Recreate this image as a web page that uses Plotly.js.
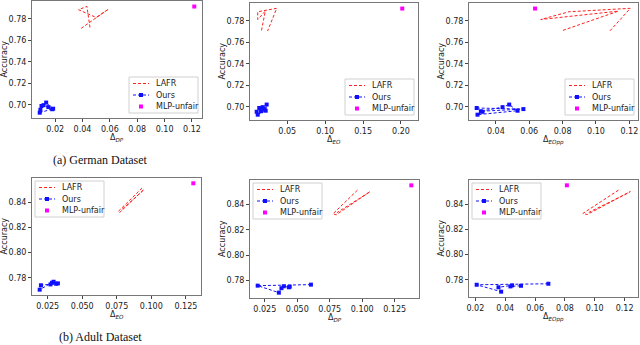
<!DOCTYPE html>
<html><head><meta charset="utf-8">
<script src="https://cdn.plot.ly/plotly-3.0.1.min.js"></script>
<style>html,body{margin:0;padding:0;background:#fff}#chart{width:640px;height:345px}</style>
</head><body><div id="chart"></div>
<script>
// ---------------- German dataset ----------------
const germanLafrAcc  = [0.7712, 0.7891, 0.7813, 0.7885, 0.7917, 0.7706];
const germanLafrDP   = [0.0390, 0.0590, 0.0500, 0.0371, 0.0432, 0.0456];
const germanLafrEO   = [0.0160, 0.0210, 0.0110, 0.0110, 0.0360, 0.0240];
const germanLafrEOpp = [0.0802, 0.1135, 0.0669, 0.0838, 0.1206, 0.1083];

const germanOursAcc  = [0.6990, 0.6980, 0.6960, 0.6998, 0.7022, 0.6965, 0.6928, 0.6955];
const germanOursDP   = [0.0100, 0.0150, 0.0178, 0.0115, 0.0134, 0.0185, 0.0087, 0.0092];
const germanOursEO   = [0.0130, 0.0195, 0.0153, 0.0175, 0.0228, 0.0215, 0.0110, 0.0096];
const germanOursEOpp = [0.0285, 0.0565, 0.0310, 0.0440, 0.0480, 0.0530, 0.0290, 0.0320];

const germanMlpAcc  = [0.7915];
const germanMlpDP   = [0.1217];
const germanMlpEO   = [0.2017];
const germanMlpEOpp = [0.0635];

// ---------------- Adult dataset ----------------
const adultLafrAcc  = [0.8512, 0.8326, 0.8318, 0.8501, 0.8490, 0.8335];
const adultLafrDP   = [0.0963, 0.0775, 0.0800, 0.1060, 0.1045, 0.0805];
const adultLafrEO   = [0.0933, 0.0760, 0.0771, 0.0946, 0.0938, 0.0780];
const adultLafrEOpp = [0.1159, 0.0920, 0.0950, 0.1238, 0.1225, 0.0960];

const adultOursAcc  = [0.7768, 0.7760, 0.7705, 0.7740, 0.7755, 0.7747, 0.7752];
const adultOursDP   = [0.0605, 0.0195, 0.0358, 0.0378, 0.0396, 0.0435, 0.0442];
const adultOursEO   = [0.0293, 0.0281, 0.0192, 0.0201, 0.0324, 0.0270, 0.0311];
const adultOursEOpp = [0.0689, 0.0209, 0.0373, 0.0355, 0.0446, 0.0435, 0.0506];

const adultMlpAcc  = [0.8550];
const adultMlpDP   = [0.1378];
const adultMlpEO   = [0.1304];
const adultMlpEOpp = [0.0813];

// ---------------- labels ----------------
const seriesNames = ['LAFR', 'Ours', 'MLP-unfair'];
const xTitles = ['Δ<sub><i>DP</i></sub>', 'Δ<sub><i>EO</i></sub>', 'Δ<sub><i>EOpp</i></sub>',
                 'Δ<sub><i>EO</i></sub>', 'Δ<sub><i>DP</i></sub>', 'Δ<sub><i>EOpp</i></sub>'];
const yTitle = 'Accuracy';
const captions = ['(a) German Dataset', '(b) Adult Dataset'];
const xTick0 = [0.02, 0.05, 0.04, 0.025, 0.025, 0.02];
const xDtick = [0.02, 0.05, 0.02, 0.025, 0.025, 0.02];
const yTick0 = [0.70, 0.70, 0.70, 0.78, 0.78, 0.78];
const yDtick = 0.02;

// ---------------- layout geometry (pixels) ----------------
const W = 640, H = 345;
const PX = v => v / W, PY = v => 1 - v / H;
const boxes = [
  [32, 202, 1, 118], [250, 418, 3, 120], [469, 638, 3, 120],
  [32, 201, 178, 295], [250, 419, 180, 298], [469, 638, 180, 297]
];
const yTitleX = [4, 222, 441, 4, 222, 441];
const xTitleY = [138, 140, 140, 315, 318, 317];

const panels = [
  {lx: germanLafrDP,   ly: germanLafrAcc, ox: germanOursDP,   oy: germanOursAcc, mx: germanMlpDP,   my: germanMlpAcc, fmt: '.2f', leg: 'br'},
  {lx: germanLafrEO,   ly: germanLafrAcc, ox: germanOursEO,   oy: germanOursAcc, mx: germanMlpEO,   my: germanMlpAcc, fmt: '.2f', leg: 'br', xr: [0.0008, 0.2225]},
  {lx: germanLafrEOpp, ly: germanLafrAcc, ox: germanOursEOpp, oy: germanOursAcc, mx: germanMlpEOpp, my: germanMlpAcc, fmt: '.2f', leg: 'br'},
  {lx: adultLafrEO,    ly: adultLafrAcc,  ox: adultOursEO,    oy: adultOursAcc,  mx: adultMlpEO,    my: adultMlpAcc,  fmt: '.3f', leg: 'tl'},
  {lx: adultLafrDP,    ly: adultLafrAcc,  ox: adultOursDP,    oy: adultOursAcc,  mx: adultMlpDP,    my: adultMlpAcc,  fmt: '.3f', leg: 'tl'},
  {lx: adultLafrEOpp,  ly: adultLafrAcc,  ox: adultOursEOpp,  oy: adultOursAcc,  mx: adultMlpEOpp,  my: adultMlpAcc,  fmt: '.2f', leg: 'tl'}
];

const RED = '#ff2020', BLUE = '#1010ff', MAG = '#ff00ff';
const FONT = 'DejaVu Sans';

function padRange(arrs) {
  const all = [].concat(...arrs);
  const mn = Math.min(...all), mx = Math.max(...all), r = mx - mn;
  return [mn - 0.05 * r, mx + 0.05 * r];
}

const data = [];
const layout = {
  width: W, height: H,
  margin: {l: 0, r: 0, t: 0, b: 0},
  showlegend: false,
  font: {family: FONT, size: 8, color: '#222'},
  shapes: [], annotations: []
};

panels.forEach((p, i) => {
  const n = i === 0 ? '' : String(i + 1);
  const xa = 'x' + n, ya = 'y' + n;
  const b = boxes[i];
  data.push({type: 'scatter', mode: 'lines', name: seriesNames[0], x: p.lx, y: p.ly, xaxis: xa, yaxis: ya,
             line: {color: RED, width: 1, dash: '3px,2px'}});
  data.push({type: 'scatter', mode: 'lines+markers', name: seriesNames[1], x: p.ox, y: p.oy, xaxis: xa, yaxis: ya,
             line: {color: BLUE, width: 1, dash: '3px,2px'}, marker: {symbol: 'square', size: 4, color: BLUE}});
  data.push({type: 'scatter', mode: 'markers', name: seriesNames[2], x: p.mx, y: p.my, xaxis: xa, yaxis: ya,
             marker: {symbol: 'square', size: 4, color: MAG}});

  layout['xaxis' + n] = {
    domain: [PX(b[0]), PX(b[1])], anchor: ya,
    range: p.xr || padRange([p.lx, p.ox, p.mx]),
    showline: true, mirror: true, linecolor: '#777', ticks: 'outside', ticklen: 3,
    showgrid: false, zeroline: false,
    tickmode: 'linear', tick0: xTick0[i], dtick: xDtick[i], tickformat: p.fmt
  };
  layout['yaxis' + n] = {
    domain: [PY(b[3]), PY(b[2])], anchor: xa,
    range: padRange([p.ly, p.oy, p.my]),
    showline: true, mirror: true, linecolor: '#777', ticks: 'outside', ticklen: 3,
    showgrid: false, zeroline: false,
    tickmode: 'linear', tick0: yTick0[i], dtick: yDtick, tickformat: '.2f'
  };

  // axis titles
  layout.annotations.push({xref: 'paper', yref: 'paper', x: PX((b[0] + b[1]) / 2), y: PY(xTitleY[i]),
    xanchor: 'center', yanchor: 'middle', showarrow: false, text: xTitles[i],
    font: {family: FONT, size: 8, color: '#222'}});
  layout.annotations.push({xref: 'paper', yref: 'paper', x: PX(yTitleX[i]), y: PY((b[2] + b[3]) / 2),
    xanchor: 'center', yanchor: 'middle', showarrow: false, textangle: -90, text: yTitle,
    font: {family: FONT, size: 8, color: '#222'}});

  // legend box (matplotlib style)
  const lw = 69, lh = 36;
  let left, top;
  if (p.leg === 'br') { left = b[1] - 4 - lw; top = b[3] - 5 - lh; }
  else { left = b[0] + 3; top = b[2] + 3; }
  layout.shapes.push({type: 'rect', xref: 'paper', yref: 'paper', layer: 'above',
    x0: PX(left), x1: PX(left + lw), y0: PY(top + lh), y1: PY(top),
    line: {color: '#d0d0d0', width: 1}, fillcolor: 'rgba(255,255,255,0.85)'});
  const rows = [top + 6.5, top + 18, top + 29.5];
  const colors = [RED, BLUE, MAG];
  rows.forEach((ry, k) => {
    if (k < 2) {
      layout.shapes.push({type: 'line', xref: 'paper', yref: 'paper', layer: 'above',
        x0: PX(left + 4), x1: PX(left + 20), y0: PY(ry), y1: PY(ry),
        line: {color: colors[k], width: 1, dash: '3px,2px'}});
    }
    if (k > 0) {
      layout.shapes.push({type: 'rect', xref: 'paper', yref: 'paper', layer: 'above',
        x0: PX(left + 10), x1: PX(left + 14), y0: PY(ry + 2), y1: PY(ry - 2),
        line: {width: 0}, fillcolor: colors[k]});
    }
    layout.annotations.push({xref: 'paper', yref: 'paper', x: PX(left + 25), y: PY(ry),
      xanchor: 'left', yanchor: 'middle', showarrow: false, text: seriesNames[k],
      font: {family: FONT, size: 8, color: '#222'}});
  });
});

layout.annotations.push({xref: 'paper', yref: 'paper', x: PX(100), y: PY(160), xanchor: 'center', yanchor: 'middle',
  showarrow: false, text: captions[0], font: {family: 'Liberation Serif', size: 12, color: '#111'}});
layout.annotations.push({xref: 'paper', yref: 'paper', x: PX(100), y: PY(337), xanchor: 'center', yanchor: 'middle',
  showarrow: false, text: captions[1], font: {family: 'Liberation Serif', size: 12, color: '#111'}});

Plotly.newPlot('chart', data, layout, {staticPlot: true, displayModeBar: false});
</script>
</body></html>
